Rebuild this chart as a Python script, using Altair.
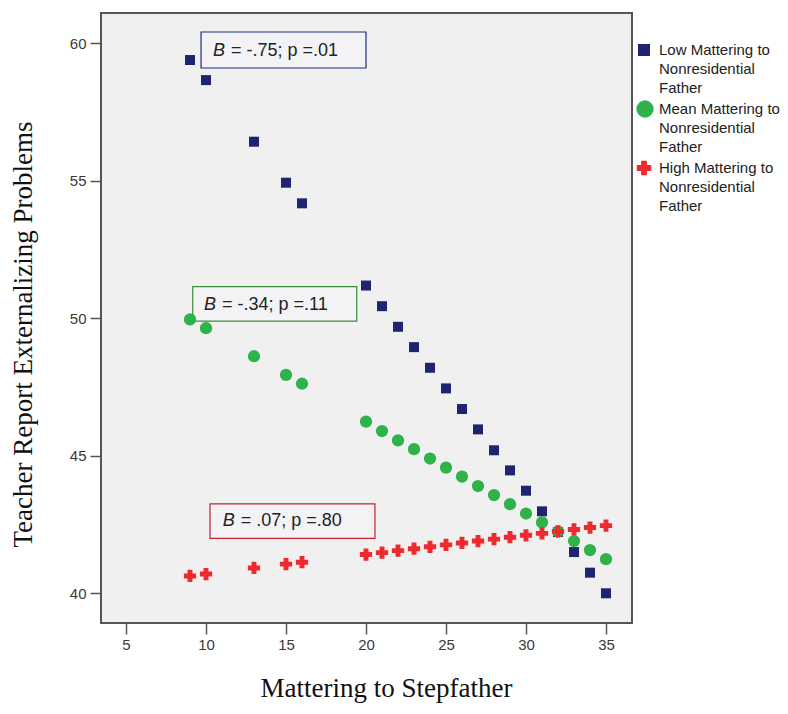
import altair as alt
import pandas as pd

# ---------------- data ----------------
x_vals = [9, 10, 13, 15, 16, 20, 21, 22, 23, 24, 25, 26, 27, 28, 29, 30, 31, 32, 33, 34, 35]
low_vals = [59.39, 58.66, 56.42, 54.93, 54.18, 51.19, 50.44, 49.69, 48.95, 48.20, 47.45,
            46.70, 45.96, 45.20, 44.47, 43.73, 42.98, 42.23, 41.50, 40.75, 40.00]
mean_vals = [49.96, 49.64, 48.62, 47.94, 47.62, 46.24, 45.90, 45.56, 45.24, 44.90, 44.57,
             44.24, 43.90, 43.57, 43.24, 42.90, 42.58, 42.24, 41.90, 41.57, 41.24]
high_vals = [40.63, 40.70, 40.92, 41.06, 41.13, 41.41, 41.48, 41.55, 41.62, 41.69, 41.76,
             41.83, 41.90, 41.97, 42.04, 42.11, 42.18, 42.25, 42.32, 42.39, 42.46]

series_names = ["Low Mattering to\nNonresidential\nFather",
                "Mean Mattering to\nNonresidential\nFather",
                "High Mattering to\nNonresidential\nFather"]
series_colors = ["#1E2470", "#2DB34A", "#EE2A2E"]
series_shapes = ["square", "circle", "cross"]
plot_sizes = [100, 150, 150]
legend_sizes = [144, 300, 210]

x_ticks = [5, 10, 15, 20, 25, 30, 35]
y_ticks = [40, 45, 50, 55, 60]

# annotation boxes (data coordinates) and labels
ann_coef = [" = -.75; p =.01", " = -.34; p =.11", " = .07; p =.80"]
ann_box_x = [9.69, 9.17, 10.25]
ann_box_x2 = [20.0, 19.42, 20.56]
ann_box_y = [60.41, 51.15, 43.25]
ann_box_y2 = [59.10, 49.90, 42.00]
ann_text_x = [10.44, 9.875, 11.04]
ann_text_y = [59.73, 50.48, 42.63]
ann_colors = ["#1F2C7C", "#3C8C3C", "#C8202F"]

# ---------------- scales / axes ----------------
xscale = alt.Scale(domain=[3.4375, 36.625], nice=False, zero=False)
yscale = alt.Scale(domain=[38.92, 61.10], nice=False, zero=False)

xaxis = alt.Axis(values=x_ticks, grid=False, domain=False, tickColor="#555555", tickWidth=1.5,
                 tickSize=11, labelPadding=3, labelFont="Liberation Sans", labelFontSize=15,
                 labelColor="#3A3A3A", title="Mattering to Stepfather",
                 titleFont="Liberation Serif", titleFontSize=27, titleFontWeight="normal",
                 titleColor="#111111", titleX=285, titleY=73, titleBaseline="alphabetic",
                 titleAlign="center")
yaxis = alt.Axis(values=y_ticks, grid=False, domain=False, tickColor="#555555", tickWidth=1.5,
                 tickSize=11, labelPadding=4, labelFont="Liberation Sans", labelFontSize=15,
                 labelColor="#3A3A3A", title="Teacher Report Externalizing Problems",
                 titleFont="Liberation Serif", titleFontSize=27, titleFontWeight="normal",
                 titleColor="#111111", titleX=-70, titleY=321, titleAngle=270,
                 titleBaseline="alphabetic", titleAlign="center")

layers = []

# annotation boxes
for i in range(3):
    box = pd.DataFrame({"x": [ann_box_x[i]], "x2": [ann_box_x2[i]],
                        "y": [ann_box_y[i]], "y2": [ann_box_y2[i]]})
    layers.append(
        alt.Chart(box).mark_rect(fill="#F3F3F5", stroke=ann_colors[i], strokeWidth=1.2).encode(
            x=alt.X("x:Q", scale=xscale, axis=xaxis),
            x2="x2:Q",
            y=alt.Y("y:Q", scale=yscale, axis=yaxis),
            y2="y2:Q",
        )
    )

# data points
for i, vals in enumerate([low_vals, mean_vals, high_vals]):
    d = pd.DataFrame({"x": x_vals, "y": vals, "series": series_names[i].replace("\n", " ")})
    layers.append(
        alt.Chart(d).mark_point(shape=series_shapes[i], filled=True, opacity=1,
                                color=series_colors[i], size=plot_sizes[i]).encode(
            x=alt.X("x:Q", scale=xscale, axis=xaxis),
            y=alt.Y("y:Q", scale=yscale, axis=yaxis),
        )
    )

# annotation texts
for i in range(3):
    t = pd.DataFrame({"x": [ann_text_x[i]], "y": [ann_text_y[i]], "b": ["B"], "rest": [ann_coef[i]]})
    layers.append(
        alt.Chart(t).mark_text(align="left", baseline="middle", font="Liberation Sans",
                               fontSize=18, fontStyle="italic", color="#222222").encode(
            x=alt.X("x:Q", scale=xscale), y=alt.Y("y:Q", scale=yscale), text="b:N"
        )
    )
    layers.append(
        alt.Chart(t).mark_text(align="left", baseline="middle", font="Liberation Sans",
                               fontSize=18, dx=18, color="#222222").encode(
            x=alt.X("x:Q", scale=xscale), y=alt.Y("y:Q", scale=yscale), text="rest:N"
        )
    )

# legend (drawn to the right of the plot area)
legend_sym_x = [543, 544, 543]
legend_row_y = [37, 96, 155]
for i in range(3):
    ld = pd.DataFrame({"label": [series_names[i]]})
    layers.append(
        alt.Chart(ld).mark_point(shape=series_shapes[i], filled=True, opacity=1,
                                 color=series_colors[i], size=legend_sizes[i]).encode(
            x=alt.value(legend_sym_x[i]), y=alt.value(legend_row_y[i])
        )
    )
    layers.append(
        alt.Chart(ld).mark_text(align="left", baseline="middle", lineBreak="\n", lineHeight=19,
                                font="Liberation Sans", fontSize=15, color="#222222").encode(
            x=alt.value(558), y=alt.value(legend_row_y[i]), text="label:N"
        )
    )

chart = alt.layer(*layers).properties(
    width=531, height=610,
    autosize=alt.AutoSizeParams(type="none"),
    padding={"left": 93, "top": 5, "right": 148, "bottom": 83},
    background="white",
).configure_view(stroke="#555555", strokeWidth=2, fill="#F0F0F0")

chart.save("out.html", embed_options={"renderer": "svg", "actions": False})
